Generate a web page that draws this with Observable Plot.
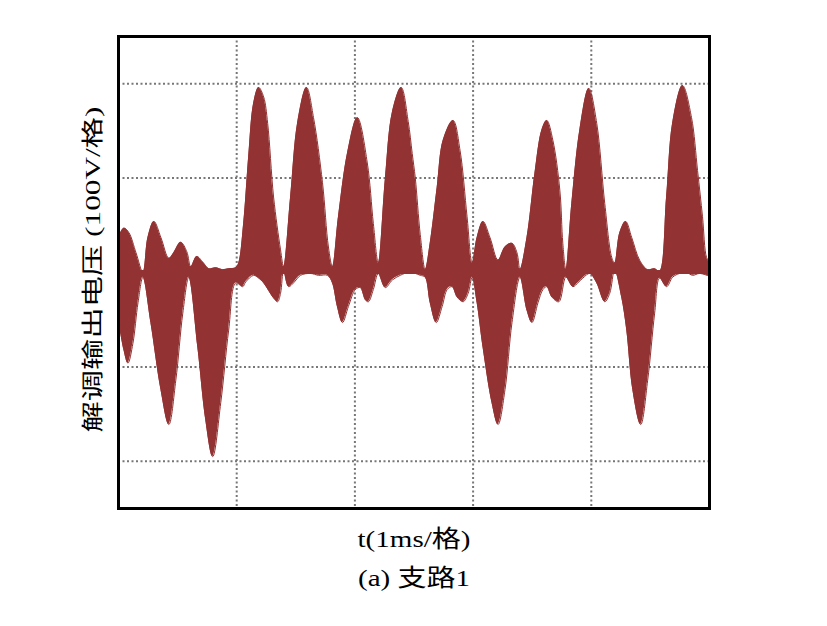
<!DOCTYPE html>
<html><head><meta charset="utf-8">
<script src="https://cdn.jsdelivr.net/npm/d3@7"></script>
<script src="https://cdn.jsdelivr.net/npm/@observablehq/plot@0.6"></script>
<style>body{margin:0;background:#fff}</style>
</head><body><div id="chart"></div>
<script>
// Upper envelope of the demodulated output (t in ms, v in V)
const upperT = [0.00,0.046,0.089,0.148,0.207,0.249,0.300,0.359,0.426,0.468,0.527,0.578,0.612,0.662,0.713,0.764,0.823,0.882,0.932,0.992,1.017,1.059,1.101,1.143,1.186,1.228,1.262,1.312,1.371,1.397,1.456,1.515,1.591,1.650,1.726,1.776,1.810,1.861,1.937,2.021,2.105,2.156,2.198,2.257,2.316,2.392,2.451,2.485,2.511,2.553,2.595,2.637,2.696,2.747,2.831,2.890,2.949,2.992,3.034,3.084,3.143,3.211,3.270,3.329,3.371,3.397,3.456,3.523,3.582,3.624,3.675,3.734,3.759,3.785,3.835,3.903,3.979,4.046,4.114,4.173,4.198,4.241,4.291,4.342,4.409,4.477,4.536,4.578,4.637,4.688,4.772,4.848,4.899,4.941,4.975,5.00];
const upperV = [37,47,42,21,0,37,54,37,15,21,32,22,6,17,11,4,5,3,4,5,10,52,122,179,196,186,158,80,24,6,80,158,196,164,95,27,6,59,126,164,116,52,10,98,169,196,160,126,100,40,3,31,90,140,161,129,59,10,37,54,37,13,27,31,21,3,37,105,151,161,140,87,31,3,73,151,195,158,73,16,10,42,54,37,13,3,4,1,80,158,198,164,108,59,16,11];
// Lower envelope
const lowerT = [0.00,0.046,0.080,0.122,0.165,0.207,0.274,0.359,0.426,0.485,0.544,0.595,0.671,0.738,0.797,0.865,0.932,0.992,1.051,1.076,1.143,1.186,1.228,1.312,1.346,1.371,1.397,1.439,1.481,1.540,1.624,1.692,1.768,1.810,1.852,1.895,1.945,2.004,2.046,2.089,2.114,2.156,2.198,2.257,2.316,2.384,2.451,2.511,2.553,2.595,2.637,2.688,2.738,2.781,2.823,2.865,2.916,2.958,2.992,3.034,3.084,3.160,3.211,3.270,3.329,3.397,3.456,3.498,3.549,3.591,3.624,3.667,3.726,3.785,3.844,3.886,3.928,3.987,4.046,4.114,4.156,4.198,4.257,4.300,4.351,4.418,4.477,4.536,4.578,4.637,4.688,4.747,4.806,4.857,4.916,5.00];
const lowerV = [-50,-82,-96,-75,-32,-5,-53,-124,-161,-114,-43,-5,-79,-156,-195,-138,-61,-11,-15,-10,-3,-6,-11,-27,-31,-22,2,-15,-11,-3,-1,-3,-3,-11,-36,-53,-36,-18,-16,-29,-31,-18,-1,-16,-8,-3,0,-1,-3,-5,-32,-53,-36,-18,-15,-26,-31,-22,-5,-32,-79,-138,-161,-124,-53,-5,-40,-53,-32,-18,-15,-26,-31,-5,-15,-11,-6,-1,-11,-31,-22,3,-26,-61,-124,-161,-114,-43,-6,-15,-5,-1,0,-3,-1,-4];
const gridT = [1, 2, 3, 4];
const gridV = [-200, -100, 0, 100, 200];
const yLabel = "解调输出电压 (100V/格)";
const xLabel = "t(1ms/格)";
const caption = "(a) 支路1";

const upper = upperT.map((t, i) => ({t, v: upperV[i]}));
const lower = lowerT.map((t, i) => ({t, v: lowerV[i]}));
const fill = "#933232";
const font = "'Liberation Serif', 'Noto Sans CJK SC', serif";

const chart = Plot.plot({
  width: 827,
  height: 626,
  marginLeft: 118,
  marginRight: 118,
  marginTop: 36,
  marginBottom: 118,
  style: {fontFamily: font, background: "#fff"},
  x: {domain: [0, 5], axis: null},
  y: {domain: [-250, 250], axis: null},
  marks: [
    Plot.ruleX(gridT, {x: d => d, stroke: "#777", strokeWidth: 2, strokeDasharray: "2,2.5"}),
    Plot.ruleY(gridV, {y: d => d, stroke: "#777", strokeWidth: 2, strokeDasharray: "2,2.5"}),
    Plot.areaY(upper, {x: "t", y1: -2, y2: "v", fill, curve: "catmull-rom"}),
    Plot.areaY(lower, {x: "t", y1: 2, y2: "v", fill, curve: "catmull-rom"}),
    Plot.lineY(upper, {x: "t", y: "v", stroke: fill, strokeWidth: 1, curve: "catmull-rom"}),
    Plot.lineY(lower, {x: "t", y: "v", stroke: fill, strokeWidth: 1, curve: "catmull-rom"}),
    Plot.frame({stroke: "#000", strokeWidth: 3}),
    Plot.text([yLabel], {frameAnchor: "left", textAnchor: "middle", lineAnchor: "middle", dx: -26, dy: -3, rotate: -90, text: d => d, fontSize: 22, fill: "#000"}),
    Plot.text([xLabel], {frameAnchor: "bottom", lineAnchor: "middle", dy: 31, text: d => d, fontSize: 24, fill: "#000"}),
    Plot.text([caption], {frameAnchor: "bottom", lineAnchor: "middle", dy: 70, text: d => d, fontSize: 24, fill: "#000"})
  ]
});
// stretch the labels to the lengths seen in the reference
const stretch = new Map([[yLabel, 326], [xLabel, 113], [caption, 112]]);
chart.querySelectorAll("text").forEach(el => {
  const len = stretch.get(el.textContent);
  if (len) {
    el.setAttribute("textLength", len);
    el.setAttribute("lengthAdjust", "spacingAndGlyphs");
  }
});
document.getElementById("chart").append(chart);
</script>
</body></html>
